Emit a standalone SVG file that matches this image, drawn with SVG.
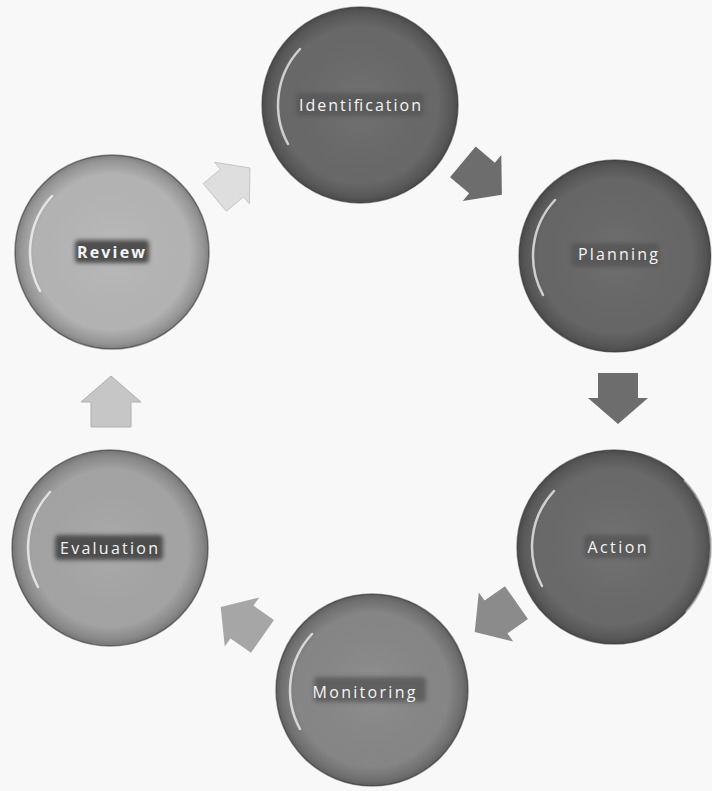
<svg xmlns="http://www.w3.org/2000/svg" xmlns:xlink="http://www.w3.org/1999/xlink" width="712" height="791" viewBox="0 0 712 791">
  <defs>
    <radialGradient id="shade" cx="0.5" cy="0.5" r="0.5">
      <stop offset="0" stop-color="#ffffff" stop-opacity="0.06"/>
      <stop offset="0.8" stop-color="#000000" stop-opacity="0.02"/>
      <stop offset="0.94" stop-color="#000000" stop-opacity="0.18"/>
      <stop offset="1" stop-color="#000000" stop-opacity="0.3"/>
    </radialGradient>
    <filter id="blur" x="-20%" y="-50%" width="140%" height="200%">
      <feGaussianBlur stdDeviation="2"/>
    </filter>
    <path id="hl" d="M -60 -56 A 82 82 0 0 0 -72 39" fill="none" stroke="#ffffff" stroke-width="2.5" stroke-linecap="round" opacity="0.7"/>
    <path id="rimR" d="M 70 -67 A 97 97 0 0 1 72 65" fill="none" stroke="#ffffff" stroke-width="2" opacity="0.45"/>
    <polygon id="arrow" points="-25,-20 0,-20 0,-30 26,0 0,30 0,20 -25,20"/>
  </defs>
  <style>
    .lbl { font-family: "Open Sans", "DejaVu Sans", sans-serif; font-size: 16px; fill: #f4f4f4; text-anchor: middle; }
    .lbg { filter: url(#blur); }
    .edge { stroke: #4a4a4a; stroke-width: 1.5; stroke-opacity: 0.6; }
  </style>
  <rect width="712" height="791" fill="#f8f8f8"/>

  <g id="connectors">
    <use xlink:href="#arrow" href="#arrow" transform="translate(482,178) rotate(40)" fill="#6d6d6d"/>
    <use xlink:href="#arrow" href="#arrow" transform="translate(618,398) rotate(90)" fill="#6d6d6d"/>
    <use xlink:href="#arrow" href="#arrow" transform="translate(496,617) rotate(145)" fill="#8b8b8b"/>
    <use xlink:href="#arrow" href="#arrow" transform="translate(242,622) rotate(215)" fill="#a6a6a6"/>
    <use xlink:href="#arrow" href="#arrow" transform="translate(111,402) rotate(270)" fill="#c6c6c6" stroke="#b0b0b0" stroke-width="1"/>
    <use xlink:href="#arrow" href="#arrow" transform="translate(232,183) rotate(320) scale(0.9)" fill="#dedede" stroke="#c4c4c4" stroke-width="1"/>
  </g>

  <g id="identification" transform="translate(360,105)">
    <circle class="edge" r="98" fill="#6a6a6a"/>
    <circle r="98" fill="url(#shade)"/>
    <use xlink:href="#hl" href="#hl"/>
    <rect class="lbg" x="-64" y="-12" width="128" height="23" rx="4" fill="#5a5a5a"/>
    <text class="lbl" x="0" y="6" textLength="122" lengthAdjust="spacing">Identification</text>
  </g>

  <g id="planning" transform="translate(615,256)">
    <circle class="edge" r="96" fill="#686868"/>
    <circle r="96" fill="url(#shade)"/>
    <use xlink:href="#hl" href="#hl"/>
    <use xlink:href="#rimR" href="#rimR"/>
    <rect class="lbg" x="-44" y="-13" width="88" height="24" rx="4" fill="#585858"/>
    <text class="lbl" x="3" y="4" textLength="80" lengthAdjust="spacing" font-size="17">Planning</text>
  </g>

  <g id="action" transform="translate(614,547)">
    <circle class="edge" r="97" fill="#6b6b6b"/>
    <circle r="97" fill="url(#shade)"/>
    <use xlink:href="#hl" href="#hl"/>
    <use xlink:href="#rimR" href="#rimR"/>
    <rect class="lbg" x="-30" y="-12" width="66" height="23" rx="4" fill="#5a5a5a"/>
    <text class="lbl" x="3" y="6" textLength="59" lengthAdjust="spacing">Action</text>
  </g>

  <g id="monitoring" transform="translate(372,690)">
    <circle class="edge" r="96" fill="#888888"/>
    <circle r="96" fill="url(#shade)"/>
    <use xlink:href="#hl" href="#hl"/>
    <rect class="lbg" x="-58" y="-13" width="112" height="25" rx="4" fill="#5e5e5e"/>
    <text class="lbl" x="-8" y="8" textLength="103" lengthAdjust="spacing" font-size="17">Monitoring</text>
  </g>

  <g id="evaluation" transform="translate(110,548)">
    <circle class="edge" r="98" fill="#a6a6a6" stroke-opacity="0.4"/>
    <circle r="98" fill="url(#shade)"/>
    <use xlink:href="#hl" href="#hl"/>
    <rect class="lbg" x="-55" y="-13" width="108" height="25" rx="4" fill="#4e4e4e"/>
    <text class="lbl" x="-1" y="6" textLength="98" lengthAdjust="spacing" font-size="17">Evaluation</text>
  </g>

  <g id="review" transform="translate(112,252)">
    <circle class="edge" r="97" fill="#b6b6b6" stroke-opacity="0.35"/>
    <circle r="97" fill="url(#shade)"/>
    <use xlink:href="#hl" href="#hl"/>
    <rect class="lbg" x="-37" y="-12" width="74" height="23" rx="4" fill="#4e4e4e"/>
    <text class="lbl" x="-1" y="6" textLength="68" lengthAdjust="spacing" font-weight="bold" font-size="16">Review</text>
  </g>
</svg>
